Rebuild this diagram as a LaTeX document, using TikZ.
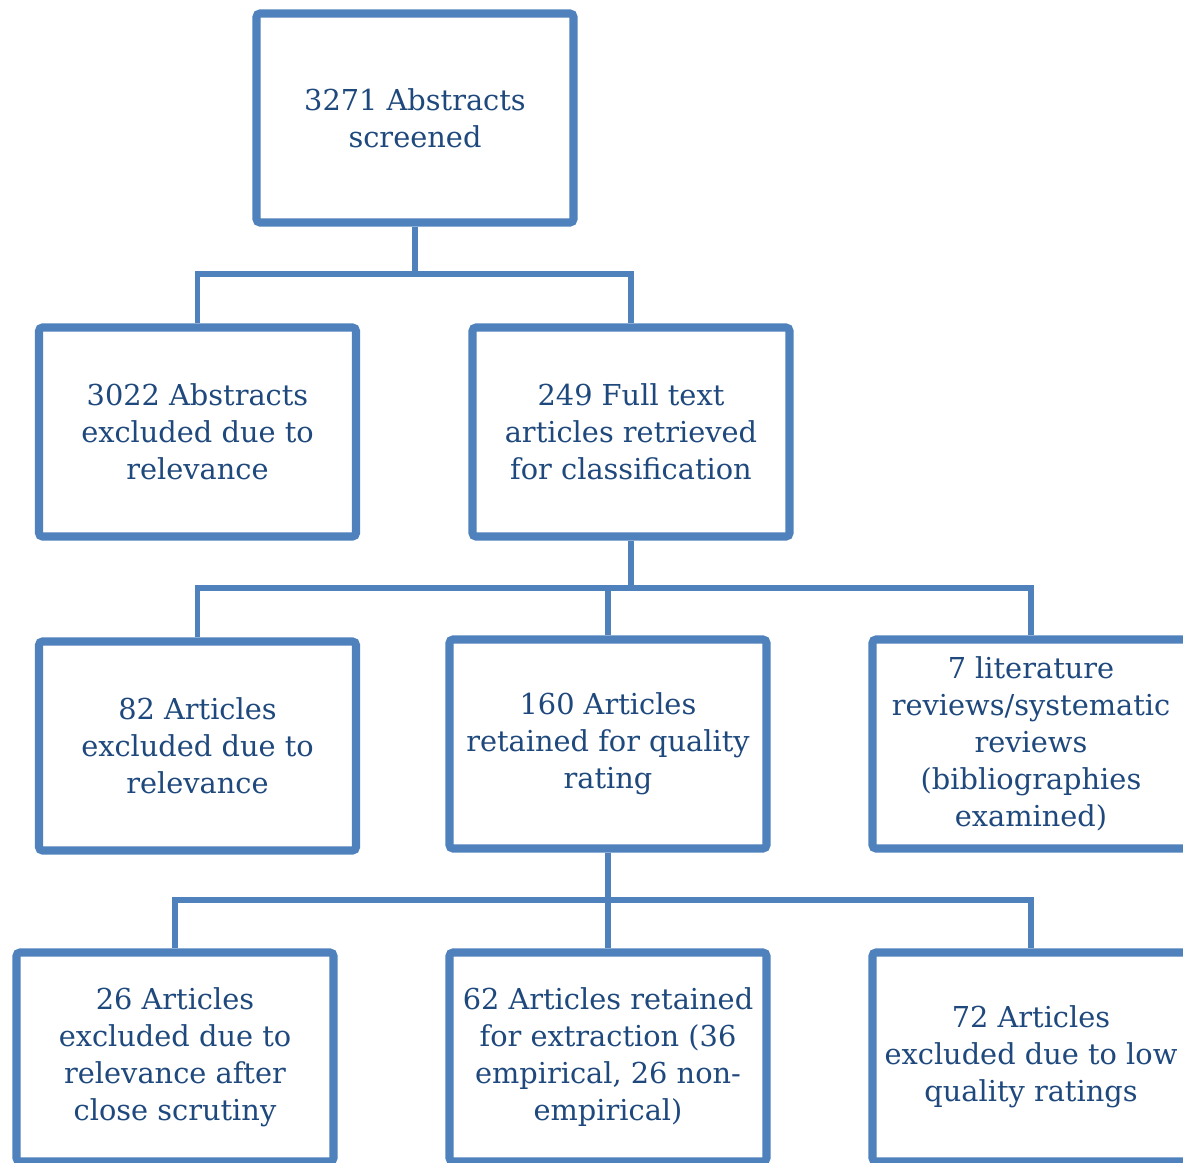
\documentclass[tikz,border=0pt]{standalone}
\usepackage{fontspec}
\setmainfont{DejaVu Serif}
\usepackage{tikz}
\usetikzlibrary{shadows}
\definecolor{boxblue}{RGB}{79,129,189}
\definecolor{txtblue}{RGB}{31,73,125}
\begin{document}
\begin{tikzpicture}[box/.style={draw=boxblue, line width=2.3pt, fill=white,
		rounded corners=1pt, minimum width=3.17cm, minimum height=2.09cm,
		align=center, text=txtblue, font=\fontsize{8.2}{10.5}\selectfont,
		drop shadow={shadow xshift=0.6pt, shadow yshift=-0.6pt, opacity=0.25}},
	link/.style={draw=boxblue, line width=1.6pt}]
	\useasboundingbox (0,0) rectangle (11.83,-11.63);
	\coordinate (j1) at (4.15,-2.74);
	\coordinate (j2) at (6.31,-5.88);
	\coordinate (j3) at (6.08,-9.00);
	\node[box] (abs) at (4.15,-1.18) {3271 Abstracts\\screened};
	\node[box] (exc1) at (1.975,-4.32) {3022 Abstracts\\excluded due to\\relevance};
	\node[box] (full) at (6.31,-4.32) {249 Full text\\articles retrieved\\for classification};
	\node[box] (exc2) at (1.975,-7.46) {82 Articles\\excluded due to\\relevance};
	\node[box] (qual) at (6.08,-7.44) {160 Articles\\retained for quality\\rating};
	\node[box] (rev) at (10.31,-7.44) {7 literature\\reviews/systematic\\reviews\\(bibliographies\\examined)};
	\node[box] (exc3) at (1.75,-10.57) {26 Articles\\excluded due to\\relevance after\\close scrutiny};
	\node[box] (extr) at (6.08,-10.57) {62 Articles retained\\for extraction (36\\empirical, 26 non-\\empirical)};
	\node[box] (low) at (10.31,-10.57) {72 Articles\\excluded due to low\\quality ratings};
	\draw[link] (abs) -- (j1);
	\draw[link] (j1) -| (exc1);
	\draw[link] (j1) -| (full);
	\draw[link] (full) -- (j2);
	\draw[link] (j2) -| (exc2);
	\draw[link] (j2) -| (qual);
	\draw[link] (j2) -| (rev);
	\draw[link] (qual) -- (j3);
	\draw[link] (j3) -| (exc3);
	\draw[link] (j3) -| (extr);
	\draw[link] (j3) -| (low);
\end{tikzpicture}
\end{document}
